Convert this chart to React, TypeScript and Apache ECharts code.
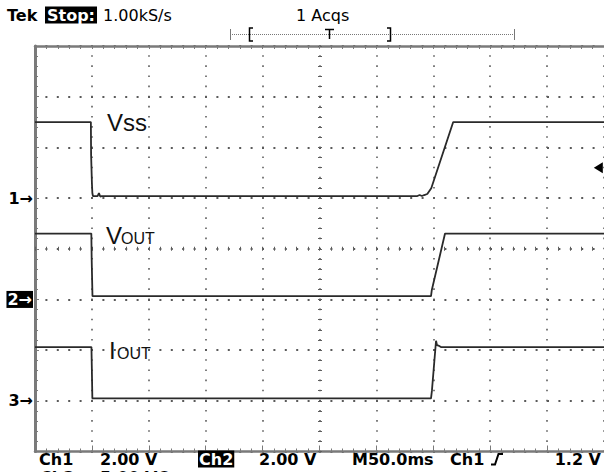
import React, { useEffect, useRef } from 'react';
import * as echarts from 'echarts';

// Time base: M50.0ms per division, 10 divisions
const TIME_MIN = 0;
const TIME_MAX = 500;
const TIME_PER_DIV = 50;
const Y_DIVS = 8;

// Channel settings: volts (units) per division and ground-marker position (divisions from centre)
const channelScale = [2, 2, 5];
const channelGround = [1, -1, -3];
const channelMarker = ['1', '2', '3'];

// Trigger: Ch1 rising, 1.2 V
const TRIGGER_LEVEL = 1.2;
const TRIGGER_MARK_T = 495;

// Ch1 : Vss
const vssT = [0, 49.1, 49.3, 50.0, 50.4, 50.9, 55.0, 56.2, 57.3, 58.5, 336, 338, 340, 342, 344.7, 348.2, 367.5, 500];
const vssV = [3.0, 3.0, 1.7, 0.6, 0.2, 0.08, 0.08, 0.2, 0.06, 0.08, 0.08, 0.12, 0.08, 0.12, 0.16, 0.39, 3.0, 3.0];

// Ch2 : Vout
const voutT = [0, 49.5, 49.8, 50.5, 348.0, 348.6, 360.3, 500];
const voutV = [2.6, 2.6, 1.6, 0.13, 0.13, 0.35, 2.6, 2.6];

// Ch3 : Iout
const ioutT = [0, 49.6, 49.9, 50.4, 348.0, 348.8, 352.4, 353.2, 354.5, 356.7, 500];
const ioutV = [5.3, 5.3, 3.5, 0.24, 0.24, 1.0, 5.92, 5.5, 5.45, 5.3, 5.3];

const GRID_LEFT = 35;
const GRID_TOP = 46;
const GRID_W = 570;
const GRID_H = 405.5;

const GRAY = '#7a7a7a';
const DOT = '#5e5e5e';
const TRACE = '#2a2a2a';

const zip = (t: number[], v: number[]) => t.map((x, i) => [x, v[i]]);

export default function App() {
  const ref = useRef<HTMLDivElement>(null);
  useEffect(() => {
    if (!ref.current) return;
    const chart = echarts.init(ref.current, undefined, { renderer: 'svg' });

    const divW = GRID_W / ((TIME_MAX - TIME_MIN) / TIME_PER_DIV);
    const divH = GRID_H / Y_DIVS;

    const chAxes = channelScale.map((s, i) => ({
      type: 'value',
      min: -(Y_DIVS / 2 + channelGround[i]) * s,
      max: (Y_DIVS / 2 - channelGround[i]) * s,
      show: false,
    }));

    const markerFor = (v: number) => {
      const idx = channelGround.indexOf(v);
      if (idx < 0) return '';
      const txt = channelMarker[idx] + '→';
      return idx === 1 ? '{inv|' + txt + '}' : '{n|' + txt + '}';
    };

    const xCommon = {
      type: 'value',
      min: TIME_MIN,
      max: TIME_MAX,
      interval: TIME_PER_DIV,
      axisLabel: { show: false },
    };
    const yCommon = {
      type: 'value',
      min: -Y_DIVS / 2,
      max: Y_DIVS / 2,
      interval: 1,
    };

    const txt = (text: string, x: number, y: number, font: string, extra: any = {}) => ({
      type: 'text',
      x,
      y,
      silent: true,
      z: 100,
      style: {
        text,
        font,
        fill: '#000',
        align: 'left',
        textAlign: 'left',
        verticalAlign: 'middle',
        textVerticalAlign: 'middle',
        ...extra,
      },
    });

    const HEAD = 'bold 16px "DejaVu Sans"';
    const HEADN = '16px "DejaVu Sans"';
    const FOOT = 'bold 16px "DejaVu Sans"';
    const LBL = '24px "Liberation Sans"';
    const LBLS = '16px "Liberation Sans"';

    const option: any = {
      animation: false,
      backgroundColor: '#fff',
      grid: { left: GRID_LEFT, top: GRID_TOP, width: GRID_W, height: GRID_H, containLabel: false },
      xAxis: [
        {
          ...xCommon,
          position: 'bottom',
          axisLine: { show: true, onZero: false, lineStyle: { color: GRAY, width: 2.5 } },
          axisTick: { show: true, inside: true, length: 6, lineStyle: { color: GRAY } },
          minorTick: { show: true, splitNumber: 5, length: 3, lineStyle: { color: GRAY } },
          splitLine: { show: true, lineStyle: { color: DOT, width: 1.6, type: [1.6, divH / 5 - 1.6], dashOffset: 0.8 } },
        },
        {
          ...xCommon,
          position: 'top',
          axisLine: { show: true, onZero: false, lineStyle: { color: GRAY, width: 2.5 } },
          axisTick: { show: true, inside: true, length: 3, lineStyle: { color: GRAY } },
          minorTick: { show: true, splitNumber: 5, length: 3, lineStyle: { color: GRAY } },
          splitLine: { show: false },
        },
        {
          ...xCommon,
          position: 'bottom',
          offset: -GRID_H / 2,
          axisLine: { show: false, onZero: false },
          axisTick: { show: true, inside: true, length: 2, lineStyle: { color: DOT } },
          minorTick: { show: true, splitNumber: 5, length: 2, lineStyle: { color: DOT } },
          splitLine: { show: false },
        },
        {
          ...xCommon,
          position: 'bottom',
          offset: -GRID_H / 2,
          axisLine: { show: false, onZero: false },
          axisTick: { show: true, inside: false, length: 2, lineStyle: { color: DOT } },
          minorTick: { show: true, splitNumber: 5, length: 2, lineStyle: { color: DOT } },
          splitLine: { show: false },
        },
      ],
      yAxis: [
        {
          ...yCommon,
          position: 'left',
          axisLine: { show: true, onZero: false, lineStyle: { color: GRAY, width: 3 } },
          axisTick: { show: true, inside: true, length: 4, lineStyle: { color: GRAY } },
          minorTick: { show: true, splitNumber: 5, length: 3, lineStyle: { color: GRAY } },
          axisLabel: {
            show: true,
            margin: 2,
            formatter: (v: number) => markerFor(v),
            rich: {
              n: { fontFamily: 'DejaVu Sans', fontWeight: 'bold', fontSize: 16, color: '#000' },
              inv: {
                fontFamily: 'DejaVu Sans',
                fontWeight: 'bold',
                fontSize: 16,
                color: '#fff',
                backgroundColor: '#000',
                padding: [1, 1, 0, 1],
              },
            },
          },
          splitLine: { show: true, lineStyle: { color: '#5a5a5a', width: 2, type: [2, divW / 5 - 2], dashOffset: 1 } },
        },
        {
          ...yCommon,
          position: 'left',
          offset: -GRID_W / 2,
          axisLine: { show: false, onZero: false },
          axisTick: { show: true, inside: true, length: 2, lineStyle: { color: DOT } },
          minorTick: { show: true, splitNumber: 5, length: 2, lineStyle: { color: DOT } },
          axisLabel: { show: false },
          splitLine: { show: false },
        },
        {
          ...yCommon,
          position: 'left',
          offset: -GRID_W / 2,
          axisLine: { show: false, onZero: false },
          axisTick: { show: true, inside: false, length: 2, lineStyle: { color: DOT } },
          minorTick: { show: true, splitNumber: 5, length: 2, lineStyle: { color: DOT } },
          axisLabel: { show: false },
          splitLine: { show: false },
        },
        ...chAxes,
      ],
      series: [
        {
          name: 'Vss',
          type: 'line',
          xAxisIndex: 0,
          yAxisIndex: 3,
          data: zip(vssT, vssV),
          showSymbol: false,
          symbol: 'none',
          lineStyle: { color: TRACE, width: 1.8 },
          z: 10,
          markPoint: {
            symbol: 'triangle',
            symbolSize: [11, 9],
            symbolRotate: 90,
            itemStyle: { color: '#000' },
            label: { show: false },
            data: [{ coord: [TRIGGER_MARK_T, TRIGGER_LEVEL] }],
          },
        },
        {
          name: 'Vout',
          type: 'line',
          xAxisIndex: 0,
          yAxisIndex: 4,
          data: zip(voutT, voutV),
          showSymbol: false,
          symbol: 'none',
          lineStyle: { color: TRACE, width: 1.8 },
          z: 10,
        },
        {
          name: 'Iout',
          type: 'line',
          xAxisIndex: 0,
          yAxisIndex: 5,
          data: zip(ioutT, ioutV),
          showSymbol: false,
          symbol: 'none',
          lineStyle: { color: TRACE, width: 1.8 },
          z: 10,
        },
      ],
      graphic: {
        elements: [
          // header
          txt('Tek', 7, 15, HEAD),
          txt('Stop:', 45, 15, HEAD, { fill: '#fff', backgroundColor: '#000', padding: [1, 2, 0, 2] }),
          txt('1.00kS/s', 103, 15, HEADN),
          txt('1 Acqs', 296, 15, HEADN),
          // record ruler
          { type: 'line', silent: true, shape: { x1: 230, y1: 34.5, x2: 515, y2: 34.5 }, style: { stroke: '#777', lineWidth: 1, lineDash: [1, 1] } },
          { type: 'line', silent: true, shape: { x1: 230.5, y1: 29, x2: 230.5, y2: 40 }, style: { stroke: '#777', lineWidth: 1 } },
          { type: 'line', silent: true, shape: { x1: 514.5, y1: 29, x2: 514.5, y2: 40 }, style: { stroke: '#777', lineWidth: 1 } },
          { type: 'polyline', silent: true, shape: { points: [[253, 28], [249.5, 28], [249.5, 41], [253, 41]] }, style: { stroke: '#000', lineWidth: 1.5, fill: null } },
          { type: 'polyline', silent: true, shape: { points: [[387, 28], [390.5, 28], [390.5, 41], [387, 41]] }, style: { stroke: '#000', lineWidth: 1.5, fill: null } },
          { type: 'line', silent: true, shape: { x1: 325, y1: 29.5, x2: 334, y2: 29.5 }, style: { stroke: '#000', lineWidth: 1.5 } },
          { type: 'line', silent: true, shape: { x1: 329.5, y1: 29, x2: 329.5, y2: 39 }, style: { stroke: '#000', lineWidth: 1.5 } },
          // waveform labels
          txt('Vss', 107, 122, LBL, { fill: '#111' }),
          txt('V', 106, 235, LBL, { fill: '#111' }),
          txt('OUT', 121, 238, LBLS, { fill: '#111' }),
          txt('I', 109, 350, LBL, { fill: '#111' }),
          txt('OUT', 117, 353, LBLS, { fill: '#111' }),
          // footer
          txt('Ch1', 39, 459, FOOT),
          txt('2.00 V', 100, 459, FOOT),
          txt('Ch2', 198, 459, FOOT, { fill: '#fff', backgroundColor: '#000', padding: [1, 1, 0, 1] }),
          txt('2.00 V', 259, 459, FOOT),
          txt('M50.0ms', 352, 459, FOOT),
          txt('Ch1', 450, 459, FOOT),
          { type: 'polyline', silent: true, shape: { points: [[491, 464.5], [495, 464.5], [498.5, 454], [503, 454]] }, style: { stroke: '#000', lineWidth: 2, fill: null } },
          txt('1.2 V', 601, 459, FOOT, { align: 'right', textAlign: 'right' }),
          txt('Ch3', 40, 477, FOOT),
          txt('5.00 VΩ', 100, 477, FOOT),
        ],
      },
    };

    chart.setOption(option);
    return () => chart.dispose();
  }, []);

  return (
    <div
      ref={ref}
      style={{ position: 'fixed', left: 0, top: 0, width: 604, height: 472, background: '#fff' }}
    />
  );
}
